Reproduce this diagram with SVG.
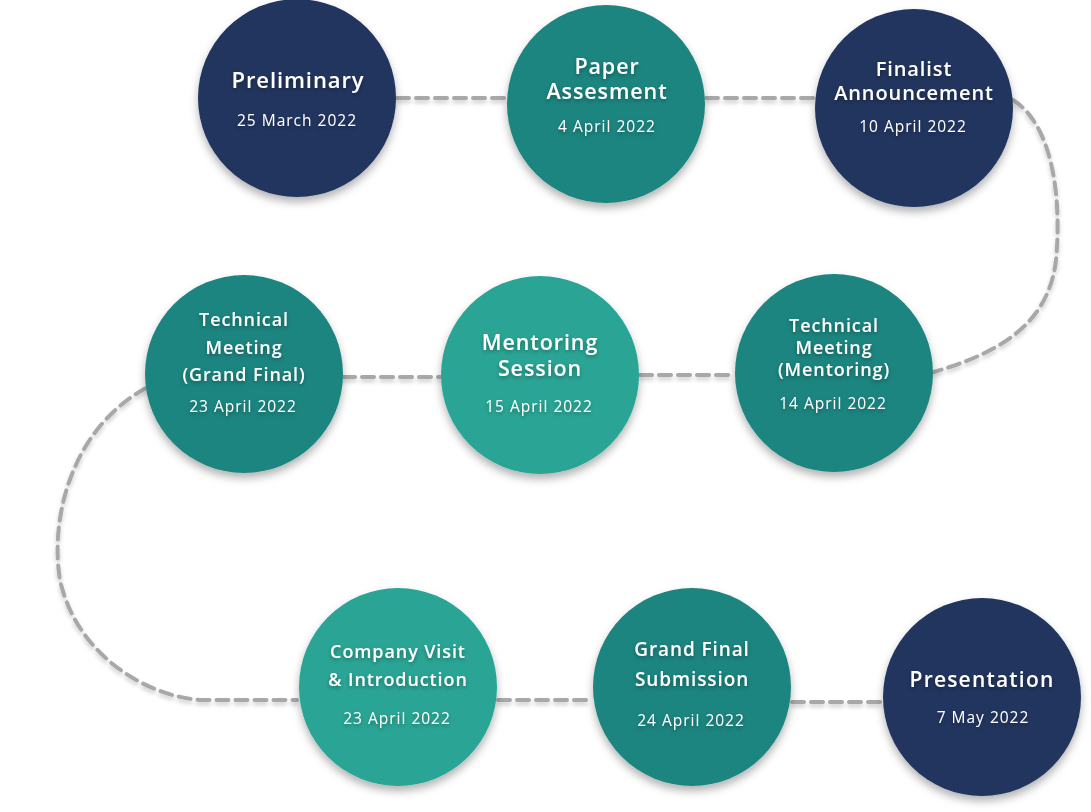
<svg xmlns="http://www.w3.org/2000/svg" width="1091" height="812" viewBox="0 0 1091 812">
<defs>
<filter id="sh" x="-30%" y="-30%" width="160%" height="170%">
<feDropShadow dx="0" dy="5" stdDeviation="4" flood-color="#000" flood-opacity="0.3"/>
</filter>
<filter id="tsh" x="-20%" y="-40%" width="140%" height="200%">
<feDropShadow dx="0" dy="2" stdDeviation="2" flood-color="#000" flood-opacity="0.35"/>
</filter>
<filter id="lsh" x="-10%" y="-10%" width="120%" height="130%">
<feDropShadow dx="0" dy="3" stdDeviation="2" flood-color="#000" flood-opacity="0.2"/>
</filter>
</defs>
<style>
.navy{fill:#22355F}
.teal{fill:#1F8580}
.lteal{fill:#2AA595}
.ln{fill:none;stroke:#A8A8A8;stroke-width:4;stroke-dasharray:12 7;stroke-linecap:round}
.t{font-family:"Open Sans","Liberation Sans",sans-serif;font-weight:600;fill:#fff;text-anchor:middle;letter-spacing:0.9px}
.d{font-family:"Open Sans","Liberation Sans",sans-serif;font-weight:400;fill:#fff;text-anchor:middle;font-size:15.5px;letter-spacing:1px}
</style>
<rect width="1091" height="812" fill="#fff"/>
<g id="connectors" filter="url(#lsh)">
<path class="ln" d="M397 98 H506"/>
<path class="ln" d="M706 98 H814"/>
<path class="ln" d="M1013 100 C1060 130 1060 220 1056 260 C1048 330 990 355 934 372"/>
<path class="ln" d="M640 375 H734"/>
<path class="ln" d="M343 377 H440"/>
<path class="ln" d="M146 388 C70 430 50 520 60 580 C75 650 140 695 200 700 H297"/>
<path class="ln" d="M498 700 H592"/>
<path class="ln" d="M792 702 H882"/>
</g>
<g id="n1">
<circle class="navy" cx="297" cy="98" r="99" filter="url(#sh)"/>
<g filter="url(#tsh)"><text class="t" x="298" y="88" font-size="22">Preliminary</text>
<text class="d" x="297" y="126">25 March 2022</text></g>
</g>
<g id="n2">
<circle class="teal" cx="606" cy="104" r="99" filter="url(#sh)"/>
<g filter="url(#tsh)"><text class="t" x="607" y="74" font-size="21.5">Paper</text>
<text class="t" x="607" y="99" font-size="21.5">Assesment</text>
<text class="d" x="607" y="132">4 April 2022</text></g>
</g>
<g id="n3">
<circle class="navy" cx="914" cy="108" r="99" filter="url(#sh)"/>
<g filter="url(#tsh)"><text class="t" x="914" y="76" font-size="20">Finalist</text>
<text class="t" x="914" y="100" font-size="20">Announcement</text>
<text class="d" x="913" y="132">10 April 2022</text></g>
</g>
<g id="n4">
<circle class="teal" cx="834" cy="373" r="99" filter="url(#sh)"/>
<g filter="url(#tsh)"><text class="t" x="834" y="332" font-size="18">Technical</text>
<text class="t" x="834" y="354" font-size="18">Meeting</text>
<text class="t" x="834" y="376" font-size="18">(Mentoring)</text>
<text class="d" x="833" y="409">14 April 2022</text></g>
</g>
<g id="n5">
<circle class="lteal" cx="540" cy="375" r="99" filter="url(#sh)"/>
<g filter="url(#tsh)"><text class="t" x="540" y="350" font-size="21.5">Mentoring</text>
<text class="t" x="540" y="376" font-size="21.5">Session</text>
<text class="d" x="539" y="412">15 April 2022</text></g>
</g>
<g id="n6">
<circle class="teal" cx="244" cy="374" r="99" filter="url(#sh)"/>
<g filter="url(#tsh)"><text class="t" x="244" y="326" font-size="18">Technical</text>
<text class="t" x="244" y="354" font-size="18">Meeting</text>
<text class="t" x="244" y="381" font-size="18">(Grand Final)</text>
<text class="d" x="243" y="412">23 April 2022</text></g>
</g>
<g id="n7">
<circle class="lteal" cx="398" cy="687" r="99" filter="url(#sh)"/>
<g filter="url(#tsh)"><text class="t" x="398" y="658" font-size="18">Company Visit</text>
<text class="t" x="398" y="686" font-size="18">&amp; Introduction</text>
<text class="d" x="397" y="724">23 April 2022</text></g>
</g>
<g id="n8">
<circle class="teal" cx="692" cy="687" r="99" filter="url(#sh)"/>
<g filter="url(#tsh)"><text class="t" x="692" y="656" font-size="19">Grand Final</text>
<text class="t" x="692" y="686" font-size="19">Submission</text>
<text class="d" x="691" y="726">24 April 2022</text></g>
</g>
<g id="n9">
<circle class="navy" cx="982" cy="697" r="99" filter="url(#sh)"/>
<g filter="url(#tsh)"><text class="t" x="982" y="687" font-size="21" style="letter-spacing:1.2px">Presentation</text>
<text class="d" x="983" y="723">7 May 2022</text></g>
</g>
</svg>
